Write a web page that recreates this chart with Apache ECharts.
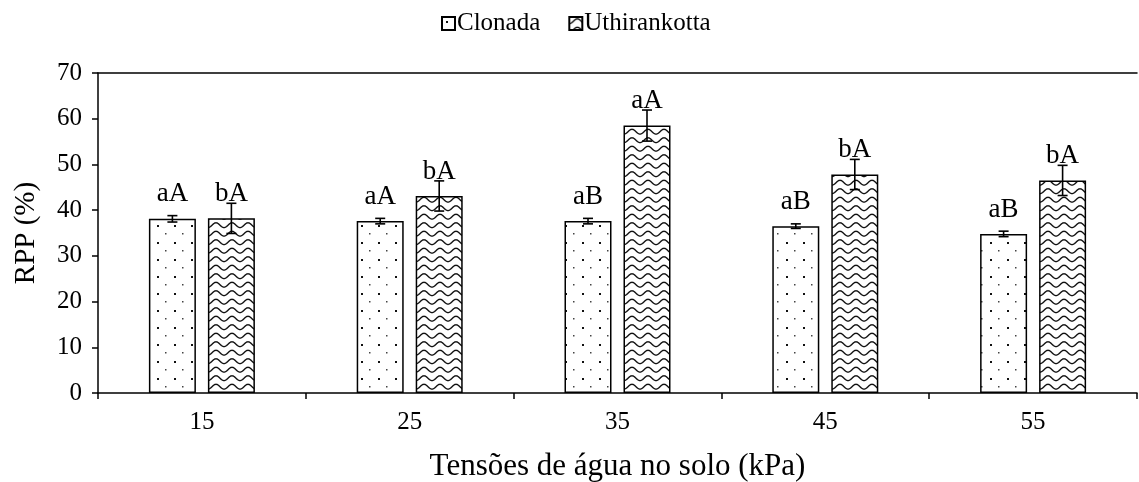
<!DOCTYPE html>
<html>
<head>
<meta charset="utf-8">
<script src="https://cdn.jsdelivr.net/npm/echarts@6/dist/echarts.min.js"></script>
<style>
html,body{margin:0;padding:0;background:#fff;}
#chart{width:1139px;height:482px;}
</style>
</head>
<body>
<div id="chart"></div>
<script>
const categories = ['15', '25', '35', '45', '55'];
const clonada = [38.1, 37.6, 37.6, 36.5, 34.8];
const clonadaErr = [0.7, 0.6, 0.6, 0.5, 0.6];
const uthirankotta = [38.2, 43.1, 58.5, 47.8, 46.5];
const uthirankottaErr = [3.3, 3.3, 3.4, 3.3, 3.3];
const clonadaLetters = ['aA', 'aA', 'aB', 'aB', 'aB'];
const uthirankottaLetters = ['bA', 'bA', 'aA', 'bA', 'bA'];
const yTicks = { min: 0, max: 70, interval: 10 };

const FONT = 'Liberation Serif';
const BAR_W = 47;
const BAR_GAP = 12;

function dotsPattern() {
  const c = document.createElement('canvas');
  c.width = 17; c.height = 17;
  const ctx = c.getContext('2d');
  ctx.fillStyle = '#fff';
  ctx.fillRect(0, 0, 17, 17);
  ctx.fillStyle = '#111';
  ctx.fillRect(4, 4, 2, 2);
  ctx.fillStyle = '#444';
  ctx.fillRect(12, 12, 1.5, 1.5);
  return c;
}
function wavePattern() {
  const w = 16, h = 17;
  const c = document.createElement('canvas');
  c.width = w; c.height = h;
  const ctx = c.getContext('2d');
  ctx.fillStyle = '#fff';
  ctx.fillRect(0, 0, w, h);
  ctx.strokeStyle = '#111';
  ctx.lineWidth = 1.4;
  [4.2, 12.7].forEach(base => {
    ctx.beginPath();
    for (let x = -1; x <= w + 1; x += 0.5) {
      const y = base + 2.4 * Math.cos(2 * Math.PI * x / w);
      if (x === -1) ctx.moveTo(x, y); else ctx.lineTo(x, y);
    }
    ctx.stroke();
  });
  return c;
}

function errorSeries(name, values, errs, sign) {
  return {
    type: 'custom',
    name: name + ' err',
    xAxisIndex: 0,
    yAxisIndex: 0,
    silent: true,
    z: 10,
    data: values.map((v, i) => [i, v - errs[i], v + errs[i]]),
    encode: { x: 0, y: [1, 2] },
    renderItem: function (params, api) {
      const lo = api.coord([api.value(0), api.value(1)]);
      const hi = api.coord([api.value(0), api.value(2)]);
      const x = lo[0] + sign * (BAR_W + BAR_GAP) / 2;
      const cap = 5;
      const style = { stroke: '#000', lineWidth: 1.6, fill: null };
      return {
        type: 'group',
        children: [
          { type: 'line', shape: { x1: x, y1: lo[1], x2: x, y2: hi[1] }, style: style },
          { type: 'line', shape: { x1: x - cap, y1: lo[1], x2: x + cap, y2: lo[1] }, style: style },
          { type: 'line', shape: { x1: x - cap, y1: hi[1], x2: x + cap, y2: hi[1] }, style: style }
        ]
      };
    }
  };
}

const chart = echarts.init(document.getElementById('chart'), null, { renderer: 'canvas' });
const option = {
  animation: false,
  backgroundColor: '#fff',
  textStyle: { fontFamily: FONT, color: '#000' },
  legend: {
    data: ['Clonada', 'Uthirankotta'],
    icon: 'rect',
    top: 6,
    left: 436,
    itemWidth: 13,
    itemHeight: 13,
    itemGap: 28,
    textStyle: { fontFamily: FONT, fontSize: 25, color: '#000', padding: [0, 0, 0, -3] }
  },
  grid: { left: 98, right: 2, top: 73, bottom: 89, containLabel: false, outerBoundsMode: 'none' },
  xAxis: [{
    type: 'category',
    data: categories,
    position: 'bottom',
    name: 'Tensões de água no solo (kPa)',
    nameLocation: 'middle',
    nameGap: 58,
    nameTextStyle: { fontFamily: FONT, fontSize: 31, color: '#000' },
    axisLine: { show: true, lineStyle: { color: '#000', width: 1.5 } },
    axisTick: { show: true, length: 6, lineStyle: { color: '#000', width: 1.5 } },
    axisLabel: { fontFamily: FONT, fontSize: 25, color: '#000', margin: 17 },
    splitLine: { show: false }
  }, {
    type: 'category',
    data: categories,
    position: 'top',
    axisLine: { show: true, lineStyle: { color: '#000', width: 1.5 } },
    axisTick: { show: false },
    axisLabel: { show: false },
    splitLine: { show: false }
  }],
  yAxis: {
    type: 'value',
    min: yTicks.min,
    max: yTicks.max,
    interval: yTicks.interval,
    name: 'RPP (%)',
    nameLocation: 'middle',
    nameGap: 57,
    nameTextStyle: { fontFamily: FONT, fontSize: 29, color: '#000' },
    axisLine: { show: true, lineStyle: { color: '#000', width: 1.5 } },
    axisTick: { show: true, length: 6, lineStyle: { color: '#000', width: 1.5 } },
    axisLabel: { fontFamily: FONT, fontSize: 25, color: '#000', margin: 16 },
    splitLine: { show: false }
  },
  series: [
    {
      type: 'bar',
      name: 'Clonada',
      data: clonada,
      barWidth: BAR_W,
      barGap: (BAR_GAP / BAR_W * 100) + '%',
      itemStyle: { color: { image: dotsPattern(), repeat: 'repeat' }, borderColor: '#000', borderWidth: 1.5 },
      label: {
        show: true, position: 'top', distance: 11,
        fontFamily: FONT, fontSize: 27, color: '#000',
        formatter: p => clonadaLetters[p.dataIndex]
      }
    },
    {
      type: 'bar',
      name: 'Uthirankotta',
      data: uthirankotta,
      barWidth: BAR_W,
      itemStyle: { color: { image: wavePattern(), repeat: 'repeat' }, borderColor: '#000', borderWidth: 1.5 },
      label: {
        show: true, position: 'top', distance: 11,
        fontFamily: FONT, fontSize: 27, color: '#000',
        formatter: p => uthirankottaLetters[p.dataIndex]
      }
    },
    errorSeries('Clonada', clonada, clonadaErr, -1),
    errorSeries('Uthirankotta', uthirankotta, uthirankottaErr, 1)
  ]
};
chart.setOption(option);
</script>
</body>
</html>
